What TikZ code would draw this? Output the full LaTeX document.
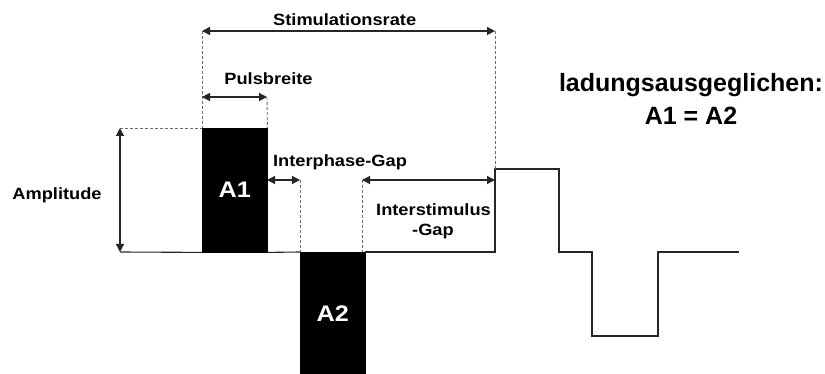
\documentclass[tikz,border=0pt]{standalone}
\usepackage{fontspec}
\setmainfont{Liberation Sans}
\newfontfamily\lblfont[FakeStretch=1.12]{Liberation Sans}
\usetikzlibrary{arrows.meta}
\begin{document}
\begin{tikzpicture}[x=1pt,y=-1pt,
  wave/.style={line width=1.1pt, black!85},
  guide/.style={gray!85!black, line width=0.9pt, dash pattern=on 3pt off 2pt},
  dimline/.style={line width=1.2pt, black!85, {Triangle[length=8pt,width=8pt]}-{Triangle[length=8pt,width=8pt]}},
  lbl/.style={font=\lblfont\bfseries\fontsize{16.3}{18}\selectfont, inner sep=0pt, anchor=base},
  biglbl/.style={font=\bfseries\fontsize{25}{28}\selectfont, inner sep=0pt, anchor=base},
  pulse/.style={fill=black, draw=black, inner sep=0pt, anchor=north west, text=white,
     font=\lblfont\bfseries\fontsize{22.5}{24}\selectfont}
]
\useasboundingbox (0,0) rectangle (825,374);
% pulses
\node[pulse, minimum width=65pt, minimum height=124pt] (A1) at (202,128) {A1};
\node[pulse, minimum width=65pt, minimum height=122pt] (A2) at (300,252) {A2};
% waveform
\coordinate (w0) at (120,252);
\coordinate (w1) at (495,252);
\coordinate (w2) at (495,169);
\coordinate (w3) at (559,169);
\coordinate (w4) at (559,252);
\coordinate (w5) at (592,252);
\coordinate (w6) at (592,336);
\coordinate (w7) at (658,336);
\coordinate (w8) at (658,252);
\coordinate (w9) at (739,252);
\draw[wave] (w0) -- (A1.south west);
\draw[wave] (A1.south east) -- (A2.north west);
\draw[wave] (A2.north east) -- (w1) -- (w2) -- (w3) -- (w4) -- (w5) -- (w6) -- (w7) -- (w8) -- (w9);
% dimension coordinates
\coordinate (srL) at (202,31);
\coordinate (srR) at (495,31);
\coordinate (pbL) at (202,97);
\coordinate (pbR) at (267,97);
\coordinate (amT) at (120,128);
\coordinate (amB) at (120,252);
\coordinate (igL) at (267,180);
\coordinate (igR) at (300,180);
\coordinate (isL) at (362,180);
\coordinate (isR) at (495,180);
\coordinate (igB) at (300,252);
\coordinate (isB) at (362,252);
% guides
\draw[guide] (srL) -- (A1.north west);
\draw[guide] (pbR) -- (A1.north east);
\draw[guide] (srR) -- (w2);
\draw[guide] (amT) -- (A1.north west);
\draw[guide] (igR) -- (igB);
\draw[guide] (isL) -- (isB);
% dimension arrows
\draw[dimline] (srL) -- (srR);
\draw[dimline] (pbL) -- (pbR);
\draw[dimline] (amT) -- (amB);
\draw[dimline] (igL) -- (igR);
\draw[dimline] (isL) -- (isR);
% labels
\node[lbl] (tSR) at (344.7,25.7) {Stimulationsrate};
\node[lbl] (tPB) at (268.5,85) {Pulsbreite};
\node[lbl] (tAm) at (57,200) {Amplitude};
\node[lbl] (tIG) at (340,166.7) {Interphase-Gap};
\node[lbl] (tIS) at (433.5,216) {Interstimulus};
\node[lbl] (tGap) at (433,236) {-Gap};
\node[biglbl] (tLad) at (691,92) {ladungsausgeglichen:};
\node[biglbl] (tEq) at (691,125) {A1 = A2};
\end{tikzpicture}
\end{document}
